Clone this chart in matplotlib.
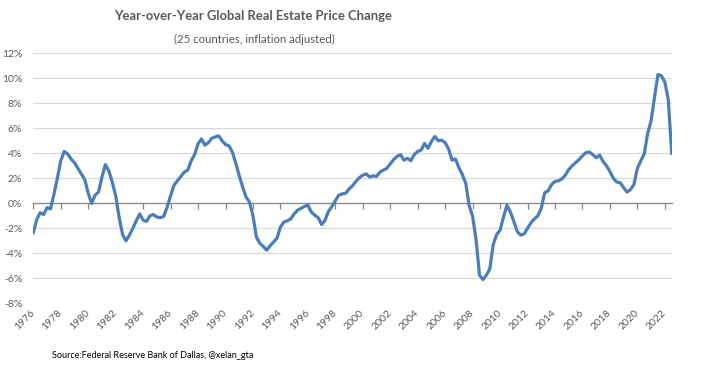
import numpy as np
import matplotlib
matplotlib.use("Agg")
from matplotlib import pyplot as plt
from matplotlib.ticker import FuncFormatter

# quarterly year-over-year change (%), 1976 Q1 .. 2022 Q3
start_year = 1976
yoy_change = [
    -2.35, -1.3, -0.75, -0.9,    # 1976
    -0.35, -0.45, 0.7, 2.0,      # 1977
    3.4, 4.15, 3.95, 3.55,       # 1978
    3.25, 2.8, 2.35, 1.9,        # 1979
    0.8, 0.0, 0.65, 0.9,         # 1980
    2.1, 3.1, 2.6, 1.7,          # 1981
    0.6, -1.1, -2.5, -3.0,       # 1982
    -2.55, -2.0, -1.4, -0.85,    # 1983
    -1.35, -1.45, -1.0, -0.9,    # 1984
    -1.1, -1.15, -1.05, -0.3,    # 1985
    0.6, 1.45, 1.8, 2.15,        # 1986
    2.5, 2.65, 3.4, 3.9,         # 1987
    4.75, 5.15, 4.65, 4.85,      # 1988
    5.2, 5.3, 5.4, 5.0,          # 1989
    4.7, 4.6, 4.1, 3.2,          # 1990
    2.2, 1.3, 0.5, 0.1,          # 1991
    -1.0, -2.7, -3.2, -3.45,     # 1992
    -3.75, -3.4, -3.1, -2.8,     # 1993
    -1.9, -1.5, -1.4, -1.25,     # 1994
    -0.85, -0.55, -0.4, -0.25,   # 1995
    -0.15, -0.7, -0.95, -1.15,   # 1996
    -1.7, -1.35, -0.65, -0.25,   # 1997
    0.2, 0.65, 0.75, 0.8,        # 1998
    1.15, 1.4, 1.75, 2.05,       # 1999
    2.25, 2.35, 2.1, 2.2,        # 2000
    2.15, 2.5, 2.65, 2.8,        # 2001
    3.15, 3.5, 3.75, 3.9,        # 2002
    3.45, 3.6, 3.4, 3.9,         # 2003
    4.15, 4.25, 4.8, 4.4,        # 2004
    4.95, 5.35, 5.0, 5.05,       # 2005
    4.85, 4.35, 3.45, 3.55,      # 2006
    2.85, 2.3, 1.6, -0.2,        # 2007
    -1.05, -2.9, -5.75, -6.1,    # 2008
    -5.75, -5.25, -3.3, -2.5,    # 2009
    -2.15, -1.1, -0.15, -0.7,    # 2010
    -1.45, -2.25, -2.55, -2.45,  # 2011
    -2.0, -1.55, -1.25, -1.0,    # 2012
    -0.4, 0.85, 1.0, 1.5,        # 2013
    1.75, 1.8, 1.95, 2.25,       # 2014
    2.7, 3.0, 3.25, 3.5,         # 2015
    3.8, 4.05, 4.1, 3.9,         # 2016
    3.65, 3.85, 3.35, 3.0,       # 2017
    2.55, 2.0, 1.7, 1.65,        # 2018
    1.25, 0.9, 1.1, 1.5,         # 2019
    2.8, 3.4, 3.95, 5.6,         # 2020
    6.6, 8.5, 10.3, 10.2,        # 2021
    9.7, 8.3, 4.0,               # 2022
]
tick_years = list(range(1976, 2023, 2))
y_ticks = list(range(-8, 13, 2))

title = "Year-over-Year Global Real Estate Price Change"
subtitle = "(25 countries, inflation adjusted)"
source = "Source:Federal Reserve Bank of Dallas, @xelan_gta"

plt.rcParams['font.family'] = ['Lato', 'DejaVu Sans']
text_grey = '#595959'
line_blue = '#4A7EBB'

x = start_year + np.arange(len(yoy_change)) / 4.0

fig = plt.figure(figsize=(7.02, 3.67), dpi=100)
ax = fig.add_axes([33.3 / 702, 1 - 303.3 / 367, (671.7 - 33.3) / 702, 250 / 367])

ax.plot(x, yoy_change, color=line_blue, linewidth=2.3, solid_joinstyle='round', zorder=3)

ax.set_xlim(start_year, x[-1])
ax.set_ylim(-8, 12)
ax.set_yticks(y_ticks)
ax.yaxis.set_major_formatter(FuncFormatter(lambda v, p: f"{v:.0f}%"))
ax.tick_params(axis='y', length=0, pad=8, labelsize=7.5, labelcolor=text_grey)
ax.grid(axis='y', color='#D9D9D9', linewidth=0.9)
ax.set_axisbelow(True)

for side in ['top', 'right', 'left']:
    ax.spines[side].set_visible(False)

# category axis sits on the zero line, labels stay at the bottom
ax.spines['bottom'].set_position(('data', 0))
ax.spines['bottom'].set_color('#868686')
ax.spines['bottom'].set_linewidth(0.9)
ax.spines['bottom'].set_zorder(2)
ax.set_xticks(tick_years)
ax.tick_params(axis='x', direction='out', length=4, width=0.9, color='#868686',
               labelbottom=False)

sec = ax.secondary_xaxis('bottom')
sec.set_xticks(tick_years, labels=[str(y) for y in tick_years])
sec.spines['bottom'].set_visible(False)
sec.tick_params(axis='x', length=0, pad=6, labelsize=7.5, labelcolor=text_grey)
for lab in sec.get_xticklabels():
    lab.set_rotation(45)
    lab.set_ha('right')
    lab.set_va('center')
    lab.set_rotation_mode('anchor')

fig.text(253 / 702, 1 - 16 / 367, title, ha='center', va='center',
         fontsize=9.4, fontweight='bold', color=text_grey)
fig.text(254 / 702, 1 - 39 / 367, subtitle, ha='center', va='center',
         fontsize=8.2, color=text_grey)
fig.text(52 / 702, 1 - 356 / 367, source, ha='left', va='center',
         fontsize=6.5, color='black')

fig.savefig('out.png', dpi=100)
